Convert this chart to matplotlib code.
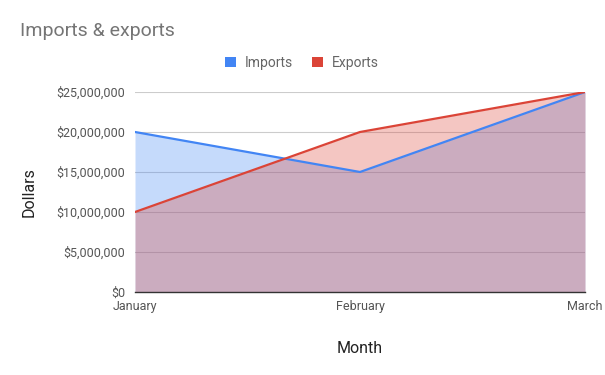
import matplotlib
matplotlib.use("Agg")
import matplotlib.pyplot as plt
from matplotlib.ticker import FuncFormatter
from matplotlib.patches import Patch

months = ["January", "February", "March"]
imports = [20000000, 15000000, 25000000]
exports = [10000000, 20000000, 25000000]
yticks = [0, 5000000, 10000000, 15000000, 20000000, 25000000]

blue = "#4285F4"
red = "#DB4437"

plt.rcParams['font.family'] = ['Roboto', 'DejaVu Sans']

fig = plt.figure(figsize=(6.05, 3.75), dpi=100)
ax = fig.add_axes([135/605, 83/375, 450/605, 200/375])

x = list(range(len(months)))
ax.fill_between(x, 0, imports, color=blue, alpha=0.3, lw=0, zorder=2)
ax.fill_between(x, 0, exports, color=red, alpha=0.3, lw=0, zorder=2)
ax.plot(x, imports, color=blue, lw=1.6, zorder=3, solid_capstyle='round')
ax.plot(x, exports, color=red, lw=1.6, zorder=3, solid_capstyle='round')

ax.set_xlim(0, 2)
ax.set_ylim(0, 25000000)
ax.set_yticks(yticks)
ax.yaxis.set_major_formatter(FuncFormatter(lambda v, p: "${:,.0f}".format(v)))
ax.set_xticks(x)
ax.set_xticklabels(months)
ax.grid(axis='y', color='#cccccc', lw=0.8, zorder=1)
ax.set_axisbelow(True)
for s in ['top', 'right', 'left']:
    ax.spines[s].set_visible(False)
ax.spines['bottom'].set_color('#333333')
ax.spines['bottom'].set_linewidth(1.0)
ax.spines['bottom'].set_zorder(4)
ax.tick_params(axis='both', length=0, labelsize=9, labelcolor='#555555')
ax.tick_params(axis='y', pad=7)
ax.tick_params(axis='x', pad=6)

ax.set_xlabel("Month", fontsize=11.5, color='#222222', labelpad=20)
ax.set_ylabel("Dollars", fontsize=11.5, color='#222222', labelpad=14)

fig.text(20/605, 1 - 31/375, "Imports & exports", fontsize=14, color='#757575',
         va='center', ha='left')

handles = [Patch(facecolor=blue, edgecolor='none', label='Imports'),
           Patch(facecolor=red, edgecolor='none', label='Exports')]
fig.legend(handles=handles, loc='center', bbox_to_anchor=(302/605, 1 - 63/375),
           ncol=2, frameon=False, fontsize=10, labelcolor='#666666',
           handlelength=0.8, handleheight=0.8, handletextpad=0.6, columnspacing=1.4)

fig.savefig("out.png", dpi=100)
